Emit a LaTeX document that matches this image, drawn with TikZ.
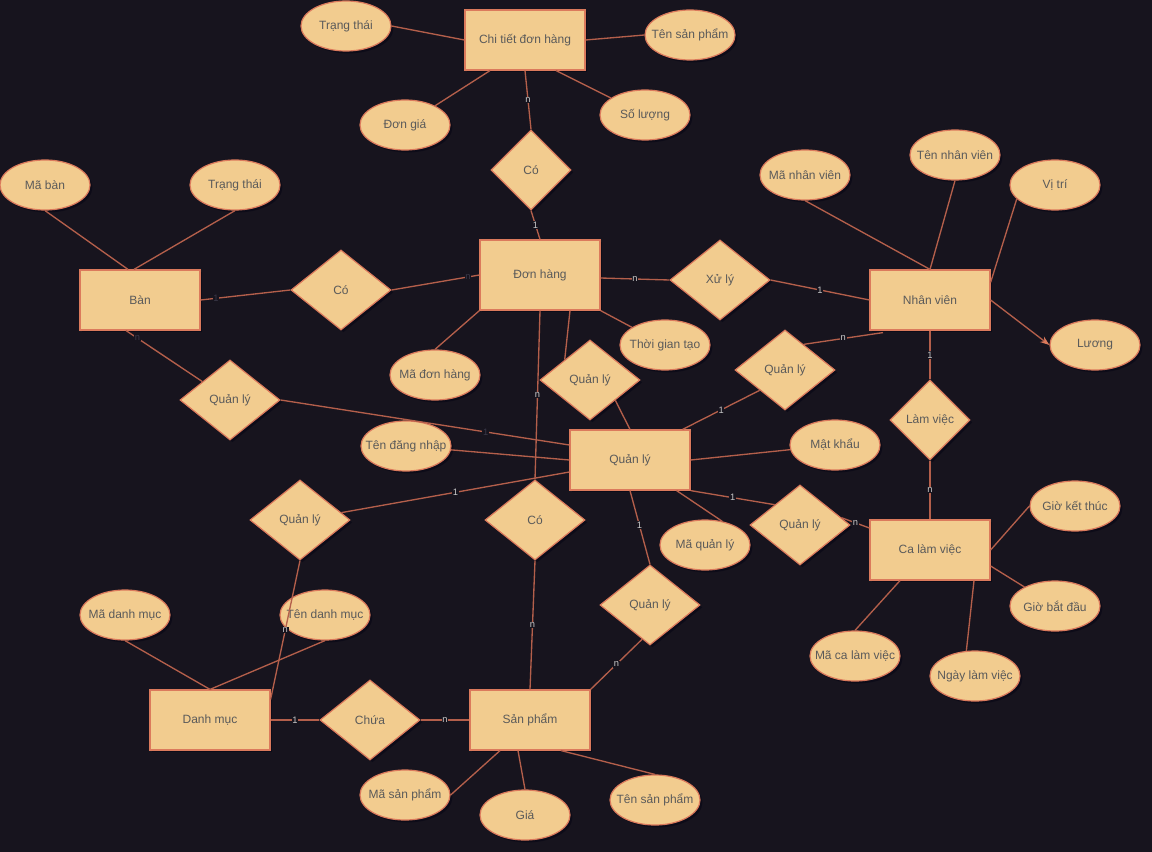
\documentclass[tikz,border=0pt]{standalone}
\usepackage{fontspec}
\setmainfont{Liberation Sans}
\usetikzlibrary{shapes.geometric,calc,arrows.meta,shadows}

\definecolor{bgcol}{HTML}{17141E}
\definecolor{boxfill}{HTML}{F2CC8F}
\definecolor{boxline}{HTML}{DB7A5C}
\definecolor{linkcol}{HTML}{B45F4B}
\definecolor{txtcol}{HTML}{5A5A5A}
\definecolor{cardcol}{HTML}{C8C8C8}
\definecolor{carddark}{HTML}{3A3848}
\definecolor{shadecol}{HTML}{0C0B18}

\tikzset{
  base/.style={draw=boxline, fill=boxfill, line width=0.9pt, text=txtcol,
    font=\fontsize{9}{11}\selectfont,
    drop shadow={shadow xshift=1.8pt, shadow yshift=-1.8pt, fill=shadecol, opacity=0.9}},
  entity/.style={base, rectangle, minimum width=90pt, minimum height=45pt, inner sep=0pt},
  relation/.style={base, diamond, minimum width=75pt, minimum height=60pt, inner sep=0pt},
  attr/.style={base, ellipse, minimum width=67.5pt, minimum height=37.5pt, inner xsep=-9pt, inner ysep=0pt},
  link/.style={draw=linkcol, line width=1pt},
  card/.style={font=\fontsize{7}{7}\selectfont, text=cardcol, fill=bgcol, inner sep=0.5pt},
  carddim/.style={card, text=carddark},
}

\begin{document}
\begin{tikzpicture}[x=0.75pt, y=-0.75pt]

        \fill[bgcol] (0,0) rectangle (1152,852);
        \useasboundingbox (0,0) rectangle (1152,852);

        %Chi tiết đơn hàng
        \node[entity] (ctdh) at (525,40) {Chi tiết đơn hàng};
        \node[attr] (ctTrangthai) at (346,26) {Trạng thái};
        \node[attr] (ctTensp) at (690,35) {Tên sản phẩm};
        \node[attr] (ctDongia) at (405,125) {Đơn giá};
        \node[attr] (ctSoluong) at (645,115) {Số lượng};
        \node[relation, minimum width=60pt] (coCT) at (531,170) {Có};

        %Bàn
        \node[entity] (ban) at (140,300) {Bàn};
        \node[attr] (banMa) at (45,185) {Mã bàn};
        \node[attr] (banTrangthai) at (235,185) {Trạng thái};
        \node[relation] (coBan) at (341,290) {Có};
        \node[relation] (qlBan) at (230,400) {Quản lý};

        %Đơn hàng
        \node[entity, minimum height=52.5pt] (donhang) at (540,275) {Đơn hàng};
        \node[attr] (dhMa) at (435,375) {Mã đơn hàng};
        \node[attr] (dhThoigian) at (665,345) {Thời gian tạo};
        \node[relation] (xuly) at (720,280) {Xử lý};
        \node[relation] (qlDon) at (590,380) {Quản lý};
        \node[relation] (coSP) at (535,520) {Có};

        %Nhân viên
        \node[entity] (nv) at (930,300) {Nhân viên};
        \node[attr] (nvMa) at (805,175) {Mã nhân viên};
        \node[attr] (nvTen) at (955,155) {Tên nhân viên};
        \node[attr] (nvVitri) at (1055,185) {Vị trí};
        \node[attr] (nvLuong) at (1095,345) {Lương};
        \node[relation] (qlNV) at (785,370) {Quản lý};
        \node[relation, minimum width=60pt] (lamviec) at (930,420) {Làm việc};

        %Quản lý
        \node[entity] (qly) at (630,460) {Quản lý};
        \node[attr] (qlTen) at (406,446) {Tên đăng nhập};
        \node[attr] (qlMk) at (835,445) {Mật khẩu};
        \node[attr] (qlMa) at (705,545) {Mã quản lý};
        \node[relation] (qlDM) at (300,520) {Quản lý};
        \node[relation] (qlCa) at (800,525) {Quản lý};
        \node[relation] (qlSP) at (650,605) {Quản lý};

        %Ca làm việc
        \node[entity] (ca) at (930,550) {Ca làm việc};
        \node[attr] (caKetthuc) at (1075,506) {Giờ kết thúc};
        \node[attr] (caBatdau) at (1055,606) {Giờ bắt đầu};
        \node[attr] (caMa) at (855,656) {Mã ca làm việc};
        \node[attr] (caNgay) at (975,676) {Ngày làm việc};

        %Danh mục
        \node[entity] (dm) at (210,720) {Danh mục};
        \node[attr] (dmMa) at (125,615) {Mã danh mục};
        \node[attr] (dmTen) at (325,615) {Tên danh mục};
        \node[relation] (chua) at (370,720) {Chứa};

        %Sản phẩm
        \node[entity] (sp) at (530,720) {Sản phẩm};
        \node[attr] (spMa) at (405,795) {Mã sản phẩm};
        \node[attr] (spGia) at (525,815) {Giá};
        \node[attr] (spTen) at (655,800) {Tên sản phẩm};

        %Links of Chi tiết đơn hàng
        \draw[link] (ctTrangthai.east) -- (ctdh.west);
        \draw[link] (ctdh.east) -- (ctTensp.west);
        \draw[link] ($(ctdh.south)+(-35,0)$) -- (ctDongia);
        \draw[link] ($(ctdh.south)+(31,0)$) -- (ctSoluong);
        \draw[link] (ctdh.south) -- node[card] {n} (coCT.north);
        \draw[link] (coCT.south) -- node[card] {1} (donhang.north);

        %Links of Bàn
        \draw[link] (banMa.south) -- ($(ban.north)+(-12,0)$);
        \draw[link] (banTrangthai.south) -- ($(ban.north)+(-6,0)$);
        \draw[link] (ban.east) -- node[carddim, pos=0.17] {1} (coBan.west);
        \draw[link] (coBan.east) -- node[carddim, pos=0.87] {n} (donhang.west);
        \draw[link] ($(ban.south)+(-14,0)$) -- node[carddim, pos=0.15] {n} (qlBan);
        \draw[link] (qlBan.east) -- node[carddim, pos=0.71] {1} ($(qly.west)+(0,-15)$);

        %Links of Đơn hàng
        \draw[link] (donhang.south west) -- (dhMa.north);
        \draw[link] (donhang.south east) -- (dhThoigian);
        \draw[link] ($(donhang.east)+(0,3)$) -- node[card] {n} (xuly.west);
        \draw[link] (xuly.east) -- node[card] {1} (nv.west);
        \draw[link] (donhang.south) -- node[card] {n} (coSP.north);
        \draw[link] ($(donhang.south)+(30,0)$) -- (qlDon.north west);
        \draw[link] (qlDon.south east) -- (qly.north);

        %Links of Nhân viên
        \draw[link] (nvMa.south) -- (nv.north);
        \draw[link] (nvTen.south) -- (nv.north);
        \draw[link] (nvVitri.200) -- ($(nv.north east)+(0,13)$);
        \draw[link, -{Stealth[length=7pt, width=5pt, color=boxline]}] (nv.east) -- (nvLuong.west);
        \draw[link] ($(nv.south)+(-47,2)$) -- node[card] {n} (qlNV.54);
        \draw[link] (qlNV.south west) -- node[card] {1} ($(qly.north east)+(-8,0)$);
        \draw[link] (nv.south) -- node[card] {1} (lamviec.north);
        \draw[link] (lamviec.south) -- node[card] {n} (ca.north);

        %Links of Quản lý
        \draw[link] (qlTen) -- (qly.west);
        \draw[link] (qly.east) -- (qlMk);
        \draw[link] ($(qly.south east)+(-14,0)$) -- (qlMa.54);
        \draw[link] ($(qly.west)+(0,12)$) -- node[card] {1} (qlDM);
        \draw[link] (qly.south) -- node[card, pos=0.47] {1} (qlSP.north);
        \draw[link] (qly.south east) -- node[card] {1} (qlCa.north west);
        \draw[link] (qlCa.10) -- node[card] {n} ($(ca.west)+(0,-22)$);

        %Links of Ca làm việc
        \draw[link] (ca.east) -- (caKetthuc.west);
        \draw[link] ($(ca.east)+(0,16)$) -- (caBatdau);
        \draw[link] ($(ca.south)+(-30,0)$) -- (caMa.north);
        \draw[link] ($(ca.south)+(44,0)$) -- (caNgay.109);

        %Links of Danh mục
        \draw[link] (dmMa.south) -- (dm.north);
        \draw[link] (dmTen.south) -- (dm.north);
        \draw[link] (qlDM.south) -- node[card] {n} ($(dm.north east)+(0,10)$);
        \draw[link] (dm.east) -- node[card] {1} (chua.west);
        \draw[link] (chua.east) -- node[card] {n} (sp.west);

        %Links of Sản phẩm
        \draw[link] (coSP.south) -- node[card] {n} (sp.north);
        \draw[link] (qlSP.257) -- node[card] {n} (sp.north east);
        \draw[link] ($(sp.south)+(-30,0)$) -- (spMa.east);
        \draw[link] ($(sp.south)+(-12,0)$) -- (spGia.north);
        \draw[link] ($(sp.south)+(31,0)$) -- (spTen.north);

\end{tikzpicture}
\end{document}
